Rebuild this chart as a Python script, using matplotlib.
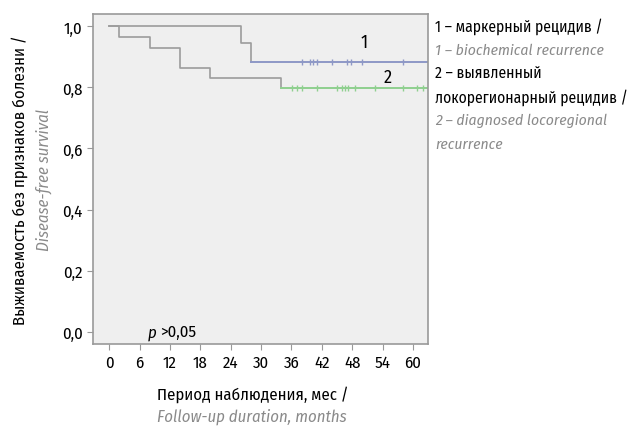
import matplotlib
matplotlib.use('Agg')
import matplotlib.pyplot as plt
import numpy as np

plt.rcParams['font.family'] = ['Fira Sans Condensed', 'DejaVu Sans']
plt.rcParams['font.weight'] = 'normal'

# Kaplan-Meier steps
# curve 1 - biochemical recurrence
times_1 = [0, 26, 28]
surv_1 = [1.0, 0.944, 0.882]
censor_1 = [38.1, 39.7, 40.3, 41.1, 44.0, 47.0, 47.8, 50.0, 58.0]

# curve 2 - diagnosed locoregional recurrence
times_2 = [0, 2, 8, 14, 20, 34]
surv_2 = [1.0, 0.964, 0.928, 0.863, 0.83, 0.797]
censor_2 = [36.1, 37.1, 38.1, 41.1, 45.0, 46.0, 46.6, 47.2, 48.6, 52.5, 58.0, 60.8, 62.0]

end_time = 63
x_ticks = [0, 6, 12, 18, 24, 30, 36, 42, 48, 54, 60]
y_ticks = [0.0, 0.2, 0.4, 0.6, 0.8, 1.0]
y_tick_labels = ['0,0', '0,2', '0,4', '0,6', '0,8', '1,0']

legend_lines = [
    ('1 – маркерный рецидив /', False),
    ('1 – biochemical recurrence', True),
    ('2 – выявленный', False),
    ('локорегионарный рецидив /', False),
    ('2 – diagnosed locoregional', True),
    ('recurrence', True),
]

grey_txt = '#8a8a8a'
line_grey = '#9c9c9c'

fig = plt.figure(figsize=(6.37, 4.27), dpi=100)
ax = fig.add_axes([0.146, 0.192, 0.526, 0.773])
ax.set_facecolor('#efefef')


def draw_curve(times, surv, censor, color):
    xs = list(times) + [end_time]
    ys = list(surv) + [surv[-1]]
    # early part in grey, tail after the last event in colour
    ax.step(xs[:-1], ys[:-1], where='post', color=line_grey, lw=1.2)
    ax.plot([times[-1], end_time], [surv[-1], surv[-1]], color=color, lw=1.4)
    ax.plot(censor, [surv[-1]] * len(censor), ls='none', marker='|',
            ms=4, mew=1.0, color=color)


draw_curve(times_1, surv_1, censor_1, '#8e98c6')
draw_curve(times_2, surv_2, censor_2, '#8fd08f')

ax.text(50.3, 0.95, '1', fontsize=13, ha='center', va='center')
ax.text(55, 0.833, '2', fontsize=13, ha='center', va='center')
ax.text(7.6, 0.0, 'p', fontsize=12, style='italic', ha='left', va='center')
ax.text(10.0, 0.0, '>0,05', fontsize=12, ha='left', va='center')

ax.set_xlim(-3.2, end_time)
ax.set_ylim(-0.04, 1.04)
ax.set_xticks(x_ticks)
ax.set_yticks(y_ticks)
ax.set_yticklabels(y_tick_labels)
ax.tick_params(axis='both', direction='out', length=4, color='#999999',
               labelsize=12)
for s in ax.spines.values():
    s.set_color('#999999')
    s.set_linewidth(1.2)

# axis titles
fig.text(0.031, 0.578, 'Выживаемость без признаков болезни /', rotation=90,
         ha='center', va='center', fontsize=12)
fig.text(0.068, 0.578, 'Disease-free survival', rotation=90, style='italic',
         ha='center', va='center', fontsize=12, color=grey_txt)
fig.text(0.396, 0.075, 'Период наблюдения, мес /', ha='center', va='center',
         fontsize=12)
fig.text(0.396, 0.023, 'Follow-up duration, months', ha='center', va='center',
         fontsize=12, style='italic', color=grey_txt)

# legend text on the right
y0 = 1 - 27 / 427
for i, (txt, it) in enumerate(legend_lines):
    fig.text(0.683, y0 - i * 23.5 / 427, txt, ha='left', va='center',
             fontsize=11.2, style='italic' if it else 'normal',
             color=grey_txt if it else 'black')

fig.savefig('out.png', dpi=100, facecolor='white')
